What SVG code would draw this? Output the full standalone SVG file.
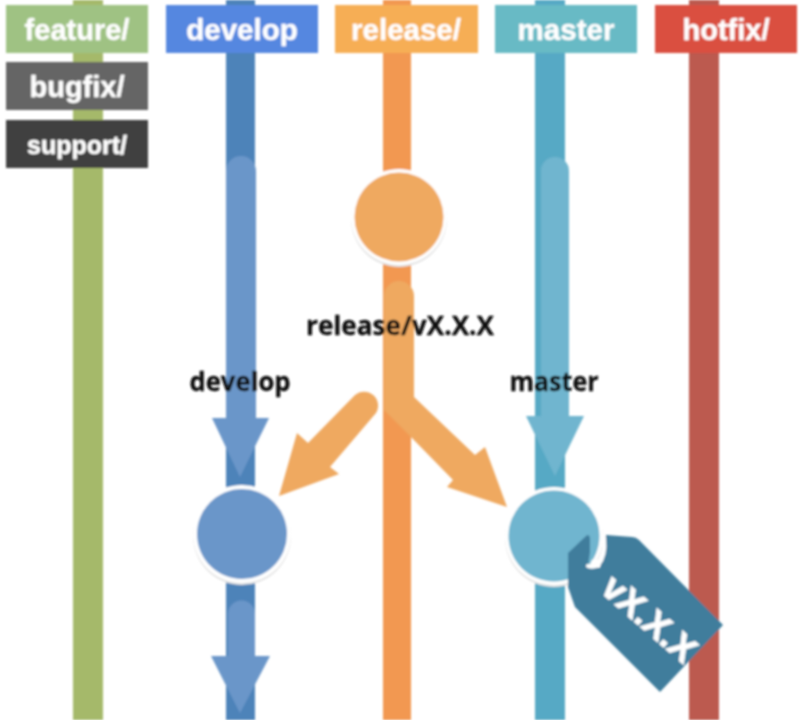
<svg xmlns="http://www.w3.org/2000/svg" width="800" height="720" viewBox="0 0 800 720">
<defs>
<style>
.lbl{font-family:"Liberation Sans",Arial,sans-serif;font-weight:700;fill:#fff;stroke:#fff;stroke-width:.4;text-anchor:middle}
.cap{font-family:"Open Sans","Liberation Sans",sans-serif;font-weight:700;fill:#111;stroke:#111;stroke-width:.3;text-anchor:middle}
.ring{fill:#fff}
.shadow{fill:#e2e2e2}
</style>
<filter id="soft" filterUnits="userSpaceOnUse" x="-10" y="-10" width="820" height="740"><feGaussianBlur stdDeviation="0.85"/></filter>
</defs>
<rect width="800" height="720" fill="#fff"/>
<g filter="url(#soft)">
<g id="lanes">
<rect x="73" y="0" width="30" height="720" fill="#a5b96a"/>
<rect x="226" y="0" width="29" height="720" fill="#4e83b9"/>
<rect x="383" y="0" width="28" height="720" fill="#f29851"/>
<rect x="535" y="0" width="30" height="720" fill="#57a9c5"/>
<rect x="689" y="0" width="30" height="720" fill="#bc5a50"/>
</g>
<g id="connectors">
<path fill="#6a96c9" d="M226 171a15 15 0 0 1 30 0V418H269L240 477L212 418H226Z"/>
<path fill="#6a96c9" d="M228 614a13.500 13.500 0 0 1 27 0V656H270L240 713L211 656H228Z"/>
<path fill="#70b5cf" d="M541 171a14 14 0 0 1 28 0V416H584L555 476L526 416H541Z"/>
<path fill="#efa961" d="M384 296a15 15 0 0 1 30 0V397L475 455L485 447L507 507L447 487L453 480L410 436L384 410Z"/>
<path fill="#efa961" d="M355 395a14 14 0 0 1 21 18L330 467L339 474L279 496L297 433L308 443Z"/>
</g>
<g id="node-feature"><rect x="6" y="5" width="142" height="48" fill="#9fc283"/><text class="lbl" x="77" y="40" font-size="29">feature/</text></g>
<g id="node-bugfix"><rect x="6" y="62" width="142" height="48" fill="#656565"/><text class="lbl" x="77" y="97" font-size="29">bugfix/</text></g>
<g id="node-support"><rect x="6" y="120" width="142" height="48" fill="#414141"/><text class="lbl" x="77" y="154" font-size="25">support/</text></g>
<g id="node-develop"><rect x="166" y="5" width="152" height="48" fill="#5587e0"/><text class="lbl" x="242" y="40" font-size="29.500">develop</text></g>
<g id="node-release"><rect x="335" y="5" width="143" height="48" fill="#f6ae55"/><text class="lbl" x="406" y="40" font-size="29.500">release/</text></g>
<g id="node-master"><rect x="495" y="5" width="142" height="48" fill="#68bac5"/><text class="lbl" x="566" y="40" font-size="29.500">master</text></g>
<g id="node-hotfix"><rect x="655" y="5" width="142" height="48" fill="#da5040"/><text class="lbl" x="726" y="40" font-size="29">hotfix/</text></g>
<g id="commit-release"><circle class="shadow" cx="399" cy="219" r="48"/><circle class="ring" cx="399" cy="217" r="48"/><circle cx="399" cy="217" r="44.500" fill="#efa961"/></g>
<g id="commit-develop"><circle class="shadow" cx="242" cy="536" r="49"/><circle class="ring" cx="242" cy="534" r="49"/><circle cx="242" cy="534" r="45" fill="#6a96c9"/></g>
<g id="commit-master">
<circle class="shadow" cx="554" cy="538" r="49"/><circle class="ring" cx="554" cy="536" r="49"/><circle cx="554" cy="536" r="45.500" fill="#70b5cf"/>
</g>
<g id="tag">
<path fill="#417d9c" d="M568 553L586 536Q589 533 590 538L590 552L588 566L600 568L606 535L632 537Q636 537 639 540L723 625L660 692L575 607L568 587Z"/>
<path fill="none" stroke="#fff" stroke-width="4" stroke-linecap="round" d="M604 538Q606 556 598 565Q593 568 588 566"/>
<circle cx="595" cy="563" r="4" fill="#fff"/>
<text class="lbl" style="stroke-width:.9" transform="translate(650 618) rotate(41)" y="13" font-size="36" textLength="112" lengthAdjust="spacingAndGlyphs">vX.X.X</text>
</g>
<g id="captions">
<text class="cap" x="400" y="335" font-size="27" textLength="188" lengthAdjust="spacingAndGlyphs">release/vX.X.X</text>
<text class="cap" x="240" y="391" font-size="27" textLength="101" lengthAdjust="spacingAndGlyphs">develop</text>
<text class="cap" x="554" y="391" font-size="27" textLength="89" lengthAdjust="spacingAndGlyphs">master</text>
</g>
</g>
</svg>
